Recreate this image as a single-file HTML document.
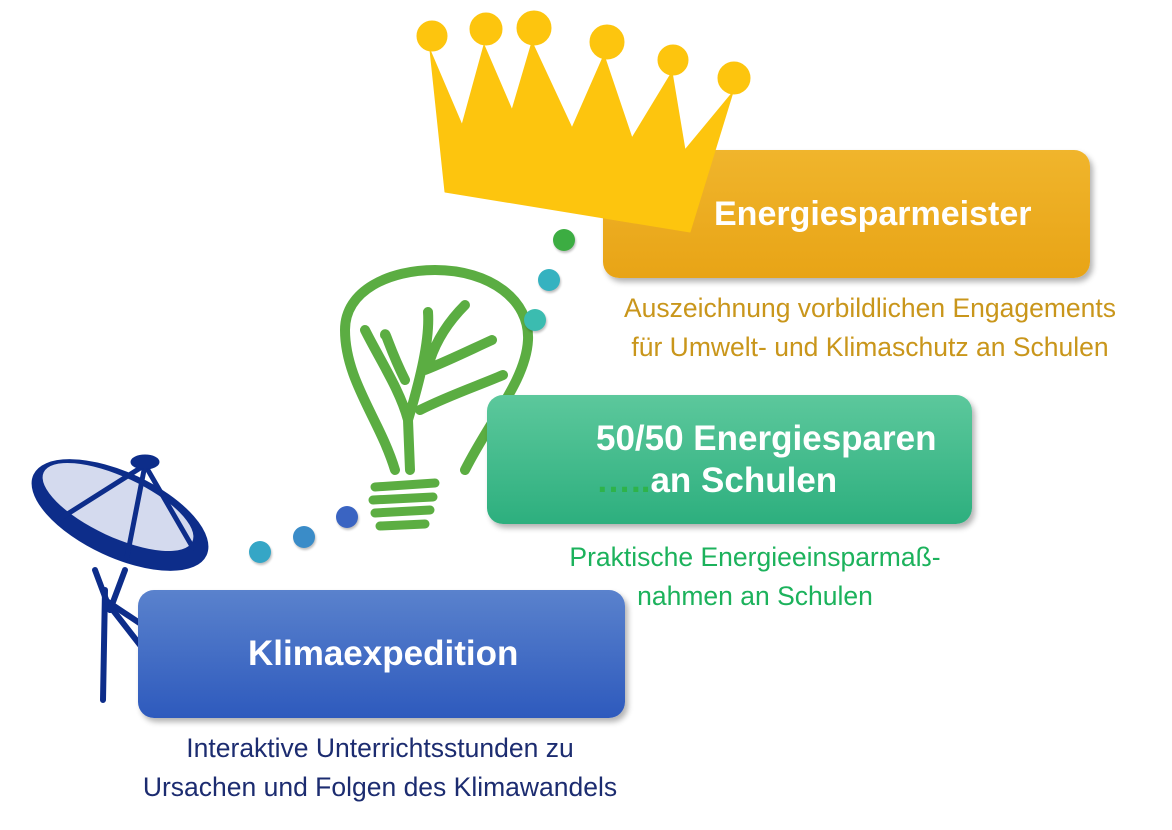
<!DOCTYPE html>
<html><head><meta charset="utf-8"><style>
body{margin:0;width:1172px;height:830px;background:#fff;position:relative;overflow:hidden;font-family:"Liberation Sans",sans-serif}
.box{position:absolute;border-radius:16px;box-shadow:3px 4px 6px rgba(0,0,0,.3);color:#fff;font-weight:bold}
.t{position:absolute;white-space:nowrap;font-weight:bold;font-size:35px;line-height:40px;color:#fff}
.cap{position:absolute;text-align:center;font-size:26.5px;line-height:39px;white-space:nowrap}
.dot{position:absolute;width:22px;height:22px;border-radius:50%;box-shadow:1px 2px 2px rgba(0,0,0,.25)}
</style></head><body>
<svg style="position:absolute;left:0;top:0" width="1172" height="830">
<g fill="#0d2d8a" stroke="#0d2d8a" stroke-linecap="round">
<g stroke-width="6" fill="none">
<line x1="105" y1="590" x2="103" y2="700"/><line x1="105" y1="600" x2="180" y2="650"/><line x1="105" y1="600" x2="158" y2="668"/>
<line x1="95" y1="570" x2="110" y2="610"/><line x1="125" y1="570" x2="110" y2="610"/>
</g>
<ellipse cx="120" cy="515" rx="95" ry="42" transform="rotate(25 120 515)"/>
<ellipse cx="118" cy="507" rx="82" ry="30" transform="rotate(25 118 507)" fill="#d4daee" stroke="none"/>
<g stroke-width="5" fill="none">
<line x1="145" y1="465" x2="58" y2="520"/><line x1="145" y1="465" x2="127" y2="557"/><line x1="145" y1="465" x2="193" y2="548"/>
</g>
<ellipse cx="145" cy="462" rx="14" ry="7"/>
</g>
</svg>
<div class="box" style="left:603px;top:150px;width:487px;height:128px;background:linear-gradient(#f0b52c,#e8a416)"></div>
<svg style="position:absolute;left:0;top:0" width="1172" height="830">
<g fill="#fdc50e" stroke="#fdc50e" stroke-linejoin="round">
<polygon points="430,50 462,125 484,45 512,110 532,42 572,128 604,55 632,138 672,72 685,150 733,92 690,232 445,192" />
<circle cx="432" cy="36" r="15"/><circle cx="486" cy="29" r="16"/><circle cx="534" cy="28" r="17"/>
<circle cx="607" cy="42" r="17"/><circle cx="673" cy="60" r="15"/><circle cx="734" cy="78" r="16"/>
</g>
<g fill="none" stroke="#4aa52e" stroke-width="10" stroke-linecap="round" opacity=".9">
<path d="M395,470 C380,420 345,380 345,330 C345,290 390,270 435,270 C490,270 530,300 528,340 C526,380 490,420 465,470"/>
<path d="M410,470 L408,420 C400,390 380,360 365,330 M408,420 C420,380 430,340 428,312 M405,380 C390,350 385,330 385,335 M420,410 C450,395 480,385 503,375 M425,370 C450,360 470,350 492,340 M430,360 C440,330 460,310 465,305"/>
<path d="M375,487 L435,483 M373,500 L433,497 M375,513 L430,510 M380,526 L425,524" stroke-width="9"/>
</g>
</svg>
<div class="box" style="left:487px;top:395px;width:485px;height:129px;background:linear-gradient(#5cc89c,#2daf7e)"></div>
<div class="box" style="left:138px;top:590px;width:487px;height:128px;background:linear-gradient(#5a82cd,#2e5abd)"></div>
<div class="t" style="left:714px;top:194px;font-size:34px">Energiesparmeister</div>
<div class="t" style="left:596px;top:419px">50/50 Energiesparen</div>
<div class="t" style="left:596px;top:461px"><span style="color:#2eb34a">…..</span>an Schulen</div>
<div class="t" style="left:248px;top:634px">Klimaexpedition</div>
<div class="cap" style="left:600px;width:540px;top:289px;color:#c9961b">Auszeichnung vorbildlichen Engagements<br>für Umwelt- und Klimaschutz an Schulen</div>
<div class="cap" style="left:530px;width:450px;top:538px;color:#1cb25c">Praktische Energieeinsparmaß-<br>nahmen an Schulen</div>
<div class="cap" style="left:110px;width:540px;top:729px;color:#1c2c70">Interaktive Unterrichtsstunden zu<br>Ursachen und Folgen des Klimawandels</div>
<div class="dot" style="left:249px;top:541px;background:#35a6c6"></div>
<div class="dot" style="left:293px;top:526px;background:#3a8cc8"></div>
<div class="dot" style="left:336px;top:506px;background:#3a64c2"></div>
<div class="dot" style="left:524px;top:309px;background:#3bbcb0"></div>
<div class="dot" style="left:538px;top:269px;background:#35b2c0"></div>
<div class="dot" style="left:553px;top:229px;background:#3cad42"></div>
</body></html>
